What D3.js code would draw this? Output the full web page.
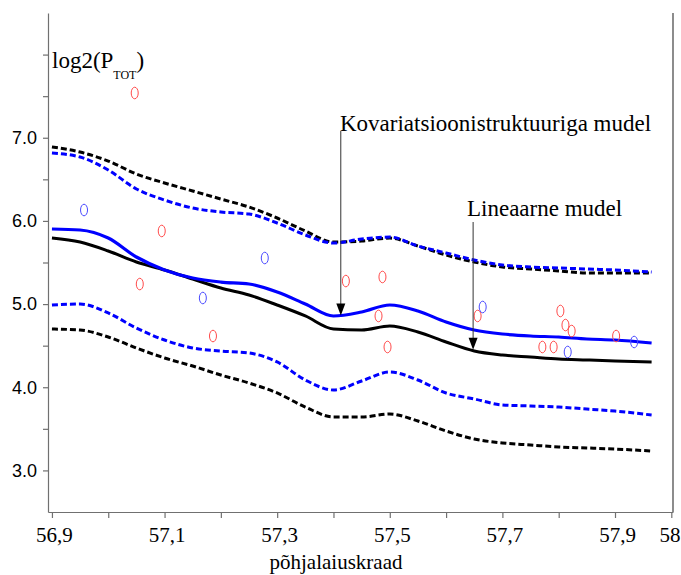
<!DOCTYPE html>
<html>
<head>
<meta charset="utf-8">
<script src="https://cdn.jsdelivr.net/npm/d3@7"></script>
<style>
  html, body { margin: 0; padding: 0; background: #ffffff; }
  svg { display: block; }
  .serif { font-family: "Liberation Serif", "Times New Roman", "DejaVu Serif", serif; }
  .sans { font-family: "Liberation Sans", Arial, sans-serif; }
</style>
</head>
<body>
<svg id="chart" width="681" height="575"></svg>
<script>
// ---- data ----
const lat = [56.9, 56.95, 57.0, 57.05, 57.1, 57.15, 57.2, 57.25, 57.3, 57.35, 57.4,
             57.45, 57.5, 57.55, 57.6, 57.65, 57.7, 57.75, 57.8, 57.85, 57.9, 57.965];
// linear model (black)
const linMean  = [5.794, 5.746, 5.638, 5.506, 5.410, 5.301, 5.193, 5.109, 4.989, 4.857, 4.700,
                  4.688, 4.736, 4.664, 4.544, 4.436, 4.388, 4.364, 4.340, 4.328, 4.316, 4.304];
const linUpper = [6.889, 6.828, 6.720, 6.564, 6.456, 6.360, 6.263, 6.167, 6.035, 5.879, 5.746,
                  5.758, 5.794, 5.698, 5.590, 5.506, 5.446, 5.422, 5.398, 5.374, 5.374, 5.374];
const linLower = [4.700, 4.688, 4.604, 4.472, 4.352, 4.255, 4.147, 4.051, 3.931, 3.762, 3.642,
                  3.642, 3.678, 3.594, 3.474, 3.378, 3.330, 3.306, 3.282, 3.270, 3.257, 3.233];
// covariance-structure model (blue)
const covMean  = [5.903, 5.891, 5.794, 5.566, 5.410, 5.313, 5.265, 5.241, 5.145, 5.001, 4.857,
                  4.905, 4.989, 4.917, 4.784, 4.688, 4.640, 4.616, 4.604, 4.580, 4.568, 4.532];
const covUpper = [6.816, 6.768, 6.612, 6.384, 6.251, 6.155, 6.107, 6.083, 5.975, 5.831, 5.734,
                  5.782, 5.806, 5.698, 5.614, 5.530, 5.470, 5.446, 5.434, 5.422, 5.410, 5.386];
const covLower = [4.989, 5.001, 4.893, 4.712, 4.568, 4.472, 4.436, 4.412, 4.304, 4.087, 3.967,
                  4.075, 4.183, 4.087, 3.931, 3.859, 3.787, 3.775, 3.762, 3.738, 3.714, 3.666];
// observations
const redX  = [57.047, 57.095, 57.056, 57.186, 57.422, 57.487, 57.480, 57.496, 57.656,
               57.803, 57.812, 57.823, 57.771, 57.791, 57.902];
const redY  = [7.538, 5.879, 5.241, 4.616, 5.277, 5.326, 4.857, 4.484, 4.857,
               4.917, 4.748, 4.676, 4.484, 4.484, 4.616];
const blueX = [56.957, 57.168, 57.278, 57.665, 57.816, 57.934];
const blueY = [6.131, 5.073, 5.554, 4.965, 4.424, 4.544];
// ticks
const xTickValues = [56.9, 57.0, 57.1, 57.2, 57.3, 57.4, 57.5, 57.6, 57.7, 57.8, 57.9, 58.0];
const xTickLabels = ["56,9", "", "57,1", "", "57,3", "", "57,5", "", "57,7", "", "57,9", "58"];
const yTickValues = [3.0, 3.5, 4.0, 4.5, 5.0, 5.5, 6.0, 6.5, 7.0, 7.5, 8.0];
const yTickLabels = ["3.0", "", "4.0", "", "5.0", "", "6.0", "", "7.0", "", ""];
const xTitle = "põhjalaiuskraad";
const annCov = "Kovariatsioonistruktuuriga mudel";
const annLin = "Lineaarne mudel";

// ---- drawing ----
const svg = d3.select("#chart");
const x = d3.scaleLinear().domain([56.893, 58.003]).range([48, 673]);
const y = d3.scaleLinear().domain([2.5, 8.5]).range([512, 13]);
const axisColor = "#707070";

// right border
svg.append("line").attr("x1", 673).attr("x2", 673).attr("y1", 13).attr("y2", 512)
  .attr("stroke", "#404040").attr("stroke-width", 1.2);

// x axis
const gx = svg.append("g").attr("transform", "translate(0,512)")
  .call(d3.axisBottom(x).tickValues(xTickValues)
    .tickFormat((d, i) => xTickLabels[i]).tickSize(6).tickSizeOuter(0));
gx.attr("font-family", null).attr("font-size", null);
gx.select(".domain").attr("stroke", axisColor).attr("stroke-width", 1.2);
gx.selectAll(".tick line").attr("stroke", axisColor).attr("stroke-width", 1.2);
gx.selectAll(".tick text").attr("class", "serif").style("font-size", "21px")
  .attr("fill", "#000").attr("dy", 0).attr("y", 30).attr("dx", 2);
// keep the last label ("58") inside the page
gx.selectAll(".tick text").filter((d, i) => i === xTickValues.length - 1)
  .attr("text-anchor", "end").attr("x", 680 - x(58.0)).attr("dx", 0);

// y axis
const gy = svg.append("g").attr("transform", "translate(48,0)")
  .call(d3.axisLeft(y).tickValues(yTickValues)
    .tickFormat((d, i) => yTickLabels[i]).tickSize(5).tickSizeOuter(0));
gy.attr("font-family", null).attr("font-size", null);
gy.select(".domain").attr("stroke", axisColor).attr("stroke-width", 1.2);
gy.selectAll(".tick line").attr("stroke", axisColor).attr("stroke-width", 1.2);
gy.selectAll(".tick text").attr("class", "sans").style("font-size", "18px")
  .attr("fill", "#000").attr("x", -11);

// axis title
svg.append("text").attr("class", "serif").attr("x", 336).attr("y", 569)
  .attr("text-anchor", "middle").style("font-size", "21px").text(xTitle);

// y label log2(P_TOT)
const yl = svg.append("text").attr("class", "serif").attr("x", 52).attr("y", 68)
  .style("font-size", "23px");
yl.append("tspan").text("log2(P");
yl.append("tspan").style("font-size", "12px").attr("dy", 11).text("TOT");
yl.append("tspan").attr("dy", -11).text(")");

// curves
const line = d3.line().x(d => x(d[0])).y(d => y(d[1])).curve(d3.curveMonotoneX);
function draw(vals, color, width, dash) {
  const p = svg.append("path").datum(lat.map((v, i) => [v, vals[i]]))
    .attr("d", line).attr("fill", "none").attr("stroke", color)
    .attr("stroke-width", width);
  if (dash) p.attr("stroke-dasharray", dash);
}
draw(linUpper, "#000", 3, "6,3");
draw(linLower, "#000", 3, "6,3");
draw(covUpper, "#0000ff", 3, "6,3");
draw(covLower, "#0000ff", 3, "6,3");
draw(linMean, "#000", 3, null);
draw(covMean, "#0000ff", 3.2, null);

// observations
svg.append("g").selectAll("ellipse").data(redX.map((v, i) => [v, redY[i]])).join("ellipse")
  .attr("cx", d => x(d[0])).attr("cy", d => y(d[1])).attr("rx", 3.5).attr("ry", 5.8)
  .attr("fill", "none").attr("stroke", "#ff4a4a").attr("stroke-width", 1);
svg.append("g").selectAll("ellipse").data(blueX.map((v, i) => [v, blueY[i]])).join("ellipse")
  .attr("cx", d => x(d[0])).attr("cy", d => y(d[1])).attr("rx", 3.5).attr("ry", 5.8)
  .attr("fill", "none").attr("stroke", "#4a4aff").attr("stroke-width", 1);

// annotations with arrows
function arrow(xv, yTop, tipV) {
  const xp = x(xv), tip = y(tipV);
  svg.append("line").attr("x1", xp).attr("x2", xp).attr("y1", yTop).attr("y2", tip - 11)
    .attr("stroke", "#333").attr("stroke-width", 1);
  svg.append("path").attr("d", `M${xp - 4.5},${tip - 12} L${xp + 4.5},${tip - 12} L${xp},${tip} Z`)
    .attr("fill", "#000");
}
svg.append("text").attr("class", "serif").attr("x", 340).attr("y", 131)
  .style("font-size", "23px").text(annCov);
arrow(57.413, 131, 4.864);
svg.append("text").attr("class", "serif").attr("x", 467).attr("y", 216)
  .style("font-size", "23px").text(annLin);
arrow(57.648, 222, 4.452);
</script>
</body>
</html>
